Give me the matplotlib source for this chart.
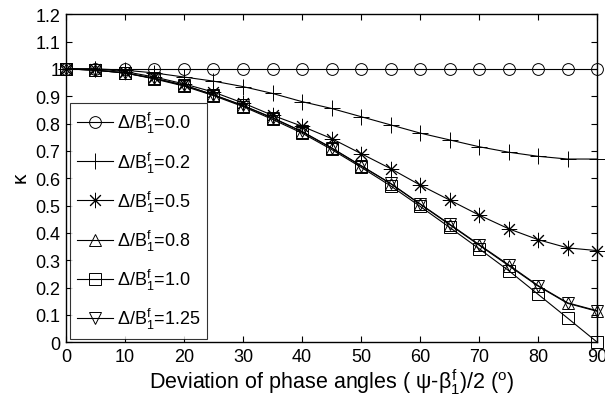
import matplotlib
matplotlib.use('Agg')
import matplotlib.pyplot as plt

plt.rcParams['font.family'] = ['Liberation Sans', 'DejaVu Sans']
plt.rcParams['mathtext.fontset'] = 'custom'
plt.rcParams['mathtext.rm'] = 'Liberation Sans'
plt.rcParams['mathtext.it'] = 'Liberation Sans'

# deviation angle (deg)
angles = [0, 5, 10, 15, 20, 25, 30, 35, 40, 45, 50, 55, 60, 65, 70, 75, 80, 85, 90]

k_00 = [1.0] * 19
k_02 = [1.0, 1.0, 0.995, 0.985, 0.97, 0.955, 0.935, 0.91, 0.88, 0.855, 0.825,
        0.795, 0.765, 0.74, 0.715, 0.695, 0.68, 0.67, 0.67]
k_05 = [1.0, 1.0, 0.99, 0.97, 0.945, 0.915, 0.875, 0.83, 0.79, 0.745, 0.69,
        0.635, 0.575, 0.52, 0.465, 0.415, 0.375, 0.345, 0.335]
k_08 = [1.0, 0.995, 0.985, 0.965, 0.94, 0.905, 0.865, 0.82, 0.77, 0.71, 0.645,
        0.58, 0.505, 0.43, 0.355, 0.28, 0.205, 0.142, 0.113]
k_10 = [1.0, 0.995, 0.985, 0.963, 0.937, 0.902, 0.862, 0.815, 0.765, 0.705, 0.64,
        0.572, 0.497, 0.42, 0.342, 0.262, 0.175, 0.088, 0.0]
k_125 = [1.0, 0.995, 0.985, 0.965, 0.94, 0.905, 0.866, 0.821, 0.771, 0.711, 0.646,
         0.581, 0.506, 0.432, 0.357, 0.283, 0.207, 0.144, 0.115]

# asterisk like matlab '*': eight spokes
star = (8, 2, 0)
series = [
    (k_00, 'o', '0.0'),
    (k_02, '+', '0.2'),
    (k_05, star, '0.5'),
    (k_08, '^', '0.8'),
    (k_10, 's', '1.0'),
    (k_125, 'v', '1.25'),
]

fig = plt.figure(figsize=(6.05, 4.10), dpi=100)
ax = fig.add_axes([0.109, 0.163, 0.878, 0.800])

for vals, mk, lab in series:
    ms = 11 if mk in ('+', star) else 8.5
    ax.plot(angles, vals, color='black', lw=0.8, marker=mk, markersize=ms,
            markerfacecolor='none', markeredgecolor='black', markeredgewidth=0.7,
            clip_on=False, label=r'$\Delta/\mathrm{B}_1^f$=' + lab)

ax.set_xlim(0, 90)
ax.set_ylim(0, 1.2)
ax.set_xticks(range(0, 91, 10))
ax.set_yticks([i / 10 for i in range(13)])
ax.set_yticklabels(['0', '0.1', '0.2', '0.3', '0.4', '0.5', '0.6', '0.7', '0.8',
                    '0.9', '1', '1.1', '1.2'])
ax.tick_params(direction='in', top=True, right=True, labelsize=13, length=4, pad=4)
for s in ax.spines.values():
    s.set_linewidth(1.0)

ax.set_ylabel(r'$\kappa$', fontsize=15, labelpad=3)
ax.set_xlabel(r'Deviation of phase angles ( $\psi$-$\beta_1^f$)/2 ($^o$)', fontsize=15.5,
              labelpad=1)

leg = ax.legend(loc='lower left', fontsize=13, frameon=True, fancybox=False,
                edgecolor='black', handlelength=2.0, handletextpad=0.2,
                borderaxespad=0.2, labelspacing=0.78, borderpad=0.4)
leg.get_frame().set_linewidth(0.8)

fig.savefig('out.png', dpi=100)
